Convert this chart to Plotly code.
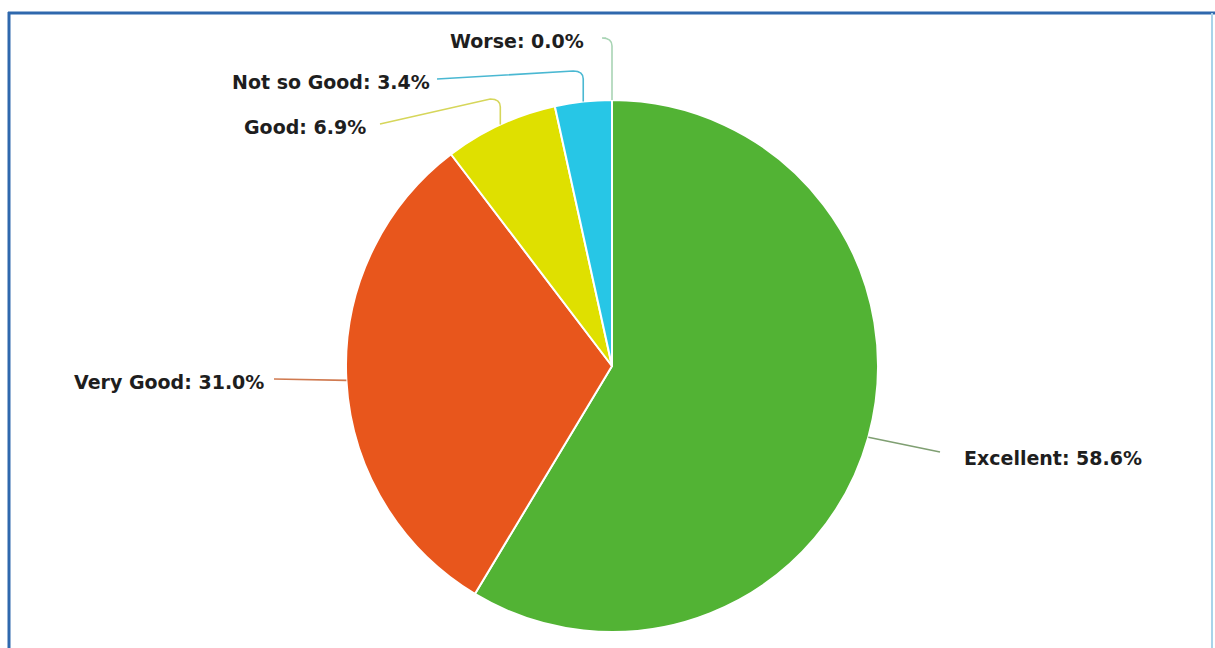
import math
import plotly.graph_objects as go

# ---- data ----
categories = ["Excellent", "Very Good", "Good", "Not so Good", "Worse"]
counts = [17, 9, 2, 1, 0]
slice_colors = ["#52b334", "#e8561c", "#dfe000", "#27c6e6", "#8fd0a0"]
leader_colors = ["#7f9f72", "#d07a50", "#d6d65a", "#4ab8d2", "#a8d4b4"]

# ---- geometry (pixels) ----
W, H = 1215, 648
CX, CY, R = 612, 366, 266

# per label layout: (corner_y or None, end_x, end_y, text_x, text_y, xanchor)
label_layout = [
    (None, 940, 452, 962, 458, "left"),
    (None, 274, 379, 266, 382, "right"),
    (99, 380, 124, 368, 127, "right"),
    (71, 437, 79, 432, 82, "right"),
    (38, 606, 38, 586, 41, "right"),
]


def px(x):
    return x / W


def py(y):
    return 1 - y / H


total = sum(counts)
fracs = [c / total for c in counts]

fig = go.Figure()
fig.add_trace(go.Pie(
    labels=categories,
    values=counts,
    sort=False,
    direction="clockwise",
    rotation=0,
    marker=dict(colors=slice_colors, line=dict(color="white", width=2)),
    textinfo="none",
    hovertemplate="%{label}: %{percent:.1%}<extra></extra>",
    showlegend=False,
    domain=dict(x=[px(CX - R), px(CX + R)], y=[py(CY + R), py(CY - R)]),
))

shapes = []
annotations = []
cum = 0.0
for i, (cat, f) in enumerate(zip(categories, fracs)):
    mid = (cum + f / 2) * 2 * math.pi
    cum += f
    sx = CX + R * math.sin(mid)
    sy = CY - R * math.cos(mid)
    corner_y, ex, ey, tx, ty, anchor = label_layout[i]
    if corner_y is None:
        path = f"M {px(sx)},{py(sy)} L {px(ex)},{py(ey)}"
    else:
        path = (f"M {px(sx)},{py(sy)} L {px(sx)},{py(corner_y + 8)} "
                f"Q {px(sx)},{py(corner_y)} {px(sx - 10)},{py(corner_y)} "
                f"L {px(ex)},{py(ey)}")
    shapes.append(dict(type="path", xref="paper", yref="paper", path=path,
                       line=dict(color=leader_colors[i], width=1.6)))
    annotations.append(dict(
        x=px(tx), y=py(ty), xref="paper", yref="paper",
        text=f"{cat}: {100 * f:.1f}%", showarrow=False,
        xanchor=anchor, yanchor="middle",
        font=dict(family="DejaVu Sans", size=19, color="#1e1e1e", weight="bold"),
    ))

# frame
shapes += [
    dict(type="line", xref="paper", yref="paper", x0=px(8), x1=1, y0=py(13), y1=py(13),
         line=dict(color="#2f68ad", width=3)),
    dict(type="line", xref="paper", yref="paper", x0=px(9), x1=px(9), y0=py(12), y1=0,
         line=dict(color="#2f68ad", width=3)),
    dict(type="line", xref="paper", yref="paper", x0=px(1212), x1=px(1212), y0=py(13), y1=0,
         line=dict(color="#a9d3ea", width=2)),
]

fig.update_layout(
    width=W, height=H,
    margin=dict(l=0, r=0, t=0, b=0),
    paper_bgcolor="white",
    plot_bgcolor="white",
    shapes=shapes,
    annotations=annotations,
)

fig.write_html(
    "out.html",
    config={"displayModeBar": False},
    post_script="document.body.style.margin='0px';document.body.style.overflow='hidden';",
)
